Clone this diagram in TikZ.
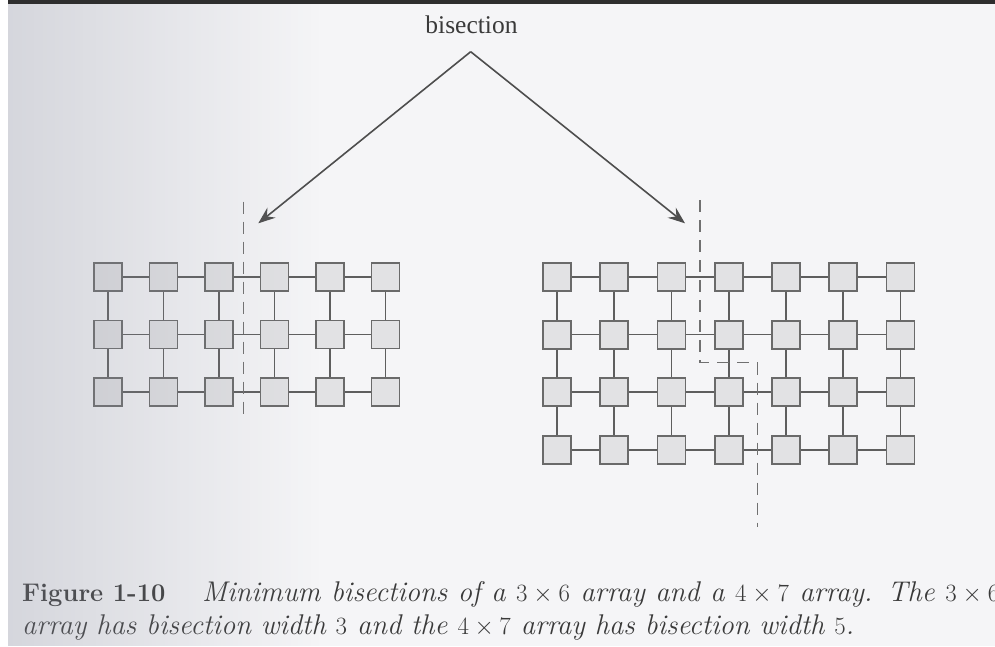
\documentclass[tikz,border=0pt]{standalone}
\usepackage{fontspec}
\newfontfamily\labelfont{Liberation Serif}
\usetikzlibrary{arrows.meta,fadings}

\definecolor{paper}{HTML}{F5F5F7}
\definecolor{ink}{HTML}{3A3A3A}
\definecolor{cellfill}{HTML}{E2E2E4}
\definecolor{celledge}{HTML}{6A6A6A}
\definecolor{linkcol}{HTML}{5E5E5E}
\definecolor{cutcol}{HTML}{707070}
\definecolor{arrowcol}{HTML}{4E4E4E}
\definecolor{gutter}{HTML}{8C90A0}
\definecolor{band}{HTML}{2E2E2E}

% darkening towards the binding, opaque on the left
\tikzfading[name=gutterfade, left color=transparent!0, right color=transparent!100]

\tikzset{
  cell/.style={draw=celledge, line width=1.8pt, fill=cellfill,
               minimum size=28pt, inner sep=0pt},
  link/.style={draw=linkcol, line width=1.7pt},
  cut/.style={draw=cutcol, line width=1.3pt, dash pattern=on 12pt off 8pt},
  pointer/.style={draw=arrowcol, line width=1.6pt,
                  -{Stealth[length=17pt,width=13pt,inset=6pt]}},
}

\begin{document}
\begin{tikzpicture}[x=1pt,y=-1pt]
  \useasboundingbox (0,0) rectangle (995,646);
  \clip (0,0) rectangle (995,646);
  \fill[paper] (0,0) rectangle (995,646);

  % 3 x 6 array
  \foreach \r in {1,2,3}
    \foreach \c in {1,...,6}
      \node[cell] (L-\r-\c) at ({108+(\c-1)*55.5},{277+(\r-1)*57.5}) {};
  \foreach \r in {1,2,3}
    \foreach \a/\b in {1/2,2/3,3/4,4/5,5/6}
      \draw[link] (L-\r-\a.east) -- (L-\r-\b.west);
  \foreach \a/\b in {1/2,2/3}
    \foreach \c in {1,...,6}
      \draw[link] (L-\a-\c.south) -- (L-\b-\c.north);

  % 4 x 7 array
  \foreach \r in {1,...,4}
    \foreach \c in {1,...,7}
      \node[cell] (R-\r-\c) at ({557+(\c-1)*57.25},{277+(\r-1)*57.6}) {};
  \foreach \r in {1,...,4}
    \foreach \a/\b in {1/2,2/3,3/4,4/5,5/6,6/7}
      \draw[link] (R-\r-\a.east) -- (R-\r-\b.west);
  \foreach \a/\b in {1/2,2/3,3/4}
    \foreach \c in {1,...,7}
      \draw[link] (R-\a-\c.south) -- (R-\b-\c.north);

  % bisection cuts
  \coordinate (cutLtop) at (243.3,201.7);
  \coordinate (cutLbot) at (243.3,418);
  \draw[cut] (cutLtop) -- (cutLbot);

  \coordinate (cutRtop) at (700,200);
  \coordinate (cutRbend) at (700,362.7);
  \coordinate (cutRstep) at (757.3,362.7);
  \coordinate (cutRbot) at (757.3,526.7);
  \draw[cut] (cutRtop) -- (cutRbend) -- (cutRstep) -- (cutRbot);

  % label and pointers
  \node[anchor=base, inner sep=0pt, text=ink,
        font=\labelfont\fontsize{25.5}{30}\selectfont] (label) at (471.5,33) {bisection};
  \coordinate (apex) at (470.7,51.7);
  \coordinate (tipL) at (258.3,223.3);
  \coordinate (tipR) at (685,223.3);
  \draw[pointer] (apex) -- (tipL);
  \draw[pointer] (apex) -- (tipR);

  % caption
  \node[anchor=base west, inner sep=0pt, text=ink,
        font=\fontsize{25.5}{30}\selectfont\bfseries] (capnum) at (22,601) {Figure 1-10};
  \node[anchor=base west, inner sep=0pt, text=ink,
        font=\fontsize{28.5}{33}\selectfont\itshape] (capone) at (202,601)
        {\makebox[797pt][s]{Minimum bisections of a $3\times6$ array and a $4\times7$ array. The $3\times6$}};
  \node[anchor=base west, inner sep=0pt, text=ink,
        font=\fontsize{28.5}{33}\selectfont\itshape] (captwo) at (22,634)
        {array has bisection width $3$ and the $4\times7$ array has bisection width $5$.};

  % shading near the binding and scan edges
  \fill[gutter, fill opacity=0.3, path fading=gutterfade] (8,0) rectangle (320,646);
  \fill[white] (0,0) rectangle (8,646);
  \fill[band] (8,0) rectangle (995,3.5);
\end{tikzpicture}
\end{document}
